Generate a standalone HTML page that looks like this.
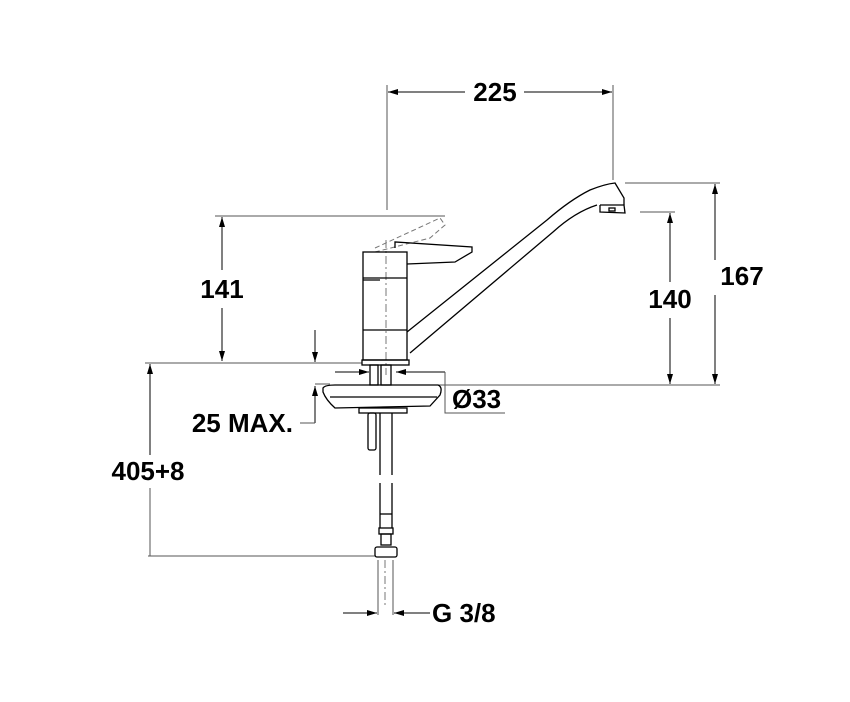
<!DOCTYPE html>
<html><head><meta charset="utf-8"><style>
html,body{margin:0;padding:0;background:#fff;}
svg{display:block;}
text{font-family:"Liberation Sans",Arial,sans-serif;font-weight:bold;font-size:26px;fill:#000;}
</style></head><body>
<svg width="850" height="702" viewBox="0 0 850 702" xmlns="http://www.w3.org/2000/svg">
<defs>
<marker id="a" viewBox="0 0 10 6" refX="10" refY="3" markerWidth="12" markerHeight="6" markerUnits="userSpaceOnUse" orient="auto"><path d="M0,0 L10,3 L0,6z" fill="#000"/></marker>
</defs>
<g stroke="#555" stroke-width="1" fill="none">
<line x1="387" y1="85" x2="387" y2="210"/>
<line x1="613" y1="85" x2="613" y2="180"/>
<line x1="465" y1="92" x2="388" y2="92" marker-end="url(#a)" stroke="#000"/>
<line x1="524" y1="92" x2="612" y2="92" marker-end="url(#a)" stroke="#000"/>
<line x1="215" y1="216" x2="445" y2="216"/>
<line x1="222" y1="270" x2="222" y2="217" marker-end="url(#a)" stroke="#000"/>
<line x1="222" y1="308" x2="222" y2="361" marker-end="url(#a)" stroke="#000"/>
<line x1="145" y1="363" x2="362" y2="363"/>
<line x1="625" y1="183" x2="720" y2="183"/>
<line x1="640" y1="212" x2="675" y2="212"/>
<line x1="400" y1="385" x2="720" y2="385"/>
<line x1="715" y1="260" x2="715" y2="184" marker-end="url(#a)" stroke="#000"/>
<line x1="715" y1="295" x2="715" y2="384" marker-end="url(#a)" stroke="#000"/>
<line x1="670" y1="282" x2="670" y2="213" marker-end="url(#a)" stroke="#000"/>
<line x1="670" y1="318" x2="670" y2="384" marker-end="url(#a)" stroke="#000"/>
<line x1="150" y1="455" x2="150" y2="364" marker-end="url(#a)" stroke="#000"/>
<line x1="150" y1="488" x2="150" y2="556"/>
<line x1="148" y1="556" x2="376" y2="556"/>
<line x1="315" y1="330" x2="315" y2="362" marker-end="url(#a)" stroke="#000"/>
<line x1="315" y1="423" x2="315" y2="386" marker-end="url(#a)" stroke="#000"/>
<line x1="300" y1="423" x2="315" y2="423"/>
<line x1="315" y1="384" x2="330" y2="384"/>
<line x1="335" y1="372" x2="369" y2="372" marker-end="url(#a)" stroke="#000"/>
<line x1="445" y1="372" x2="396" y2="372" marker-end="url(#a)" stroke="#000"/>
<polyline points="445,372 445,413 505,413"/>
<line x1="343" y1="613" x2="377" y2="613" marker-end="url(#a)" stroke="#000"/>
<line x1="430" y1="613" x2="394" y2="613" marker-end="url(#a)" stroke="#000"/>
<line x1="378" y1="560" x2="378" y2="615"/>
<line x1="393" y1="560" x2="393" y2="615"/>
</g>
<path d="M375,248 L440,218 L445,225 L430,238 L375,252" fill="none" stroke="#777" stroke-dasharray="5,3"/>
<line x1="386" y1="240" x2="386" y2="375" stroke="#777" stroke-dasharray="8,3,2,3"/>
<line x1="385" y1="560" x2="385" y2="605" stroke="#777" stroke-dasharray="8,3,2,3"/>
<g stroke="#000" stroke-width="1.3" fill="none">
<rect x="363" y="252" width="44" height="108"/>
<line x1="363" y1="278" x2="407" y2="278"/>
<line x1="363" y1="280" x2="380" y2="280"/>
<line x1="363" y1="330" x2="407" y2="330"/>
<rect x="362" y="360" width="47" height="5"/>
<path d="M395,248 L395,242 L472,247 L472,252 L455,262 L407,264"/>
<path d="M407,332 L547,220 Q570,200 590,190 Q605,184 615,183 L624,198 L624,205"/>
<path d="M410,353 L553,232 Q575,212 597,205"/>
<path d="M600,205 L600,212 L625,213 L624,205 L600,205"/>
<rect x="609" y="208" width="6" height="3"/>
<rect x="370" y="365" width="8" height="20"/>
<rect x="381" y="365" width="10" height="20"/>
<path d="M323,388 Q325,385 335,385 L438,385 Q443,387 440,395 L430,406 L335,408 Q326,400 323,392z"/>
<line x1="330" y1="397" x2="437" y2="397"/>
<rect x="359" y="408" width="48" height="5"/>
<rect x="368" y="413" width="8" height="37" rx="2"/>
<line x1="380" y1="413" x2="380" y2="475"/>
<line x1="392" y1="413" x2="392" y2="475"/>
<line x1="380" y1="483" x2="380" y2="528"/>
<line x1="392" y1="483" x2="392" y2="528"/>
<line x1="380" y1="514" x2="392" y2="514"/>
<rect x="379" y="528" width="14" height="6"/>
<rect x="381" y="534" width="10" height="11"/>
<rect x="375" y="547" width="22" height="10" rx="2"/>
</g>
<text x="495" y="101" text-anchor="middle">225</text>
<text x="222" y="298" text-anchor="middle">141</text>
<text x="742" y="285" text-anchor="middle">167</text>
<text x="670" y="308" text-anchor="middle">140</text>
<text x="148" y="480" text-anchor="middle">405+8</text>
<text x="293" y="432" text-anchor="end">25 MAX.</text>
<text x="452" y="408">Ø33</text>
<text x="432" y="622">G 3/8</text>
</svg>
</body></html>
